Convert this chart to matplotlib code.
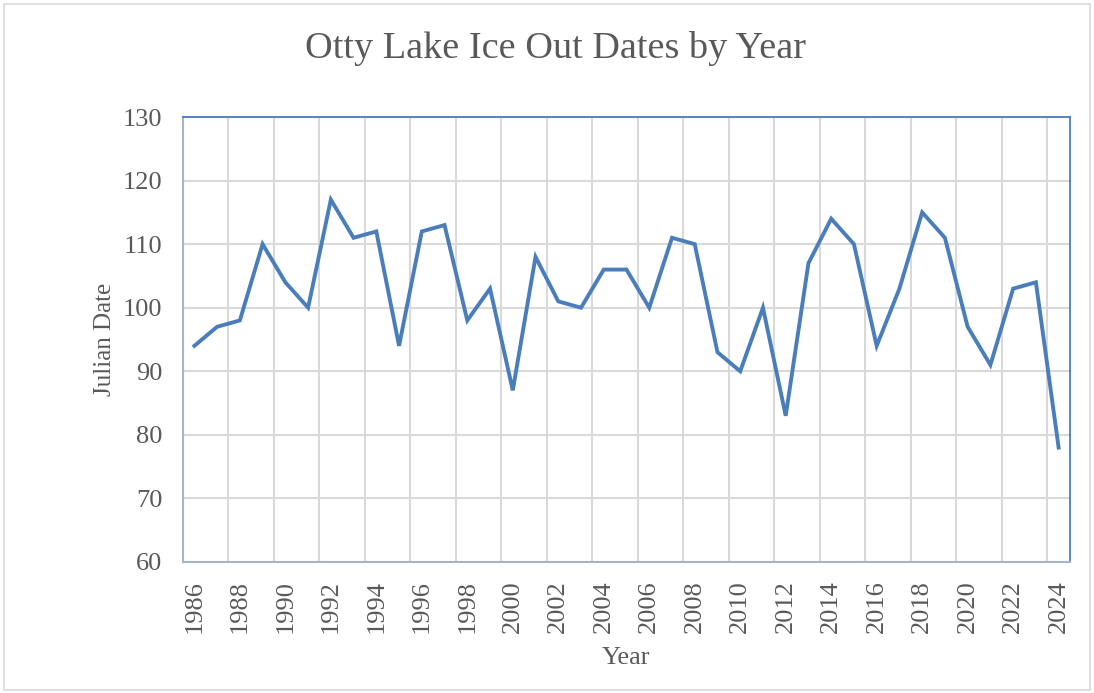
import matplotlib
matplotlib.use("Agg")
import matplotlib.pyplot as plt
from matplotlib.patches import Rectangle
import numpy as np

years = list(range(1986, 2025))
julian = [94, 97, 98, 110, 104, 100, 117, 111, 112, 94,
          112, 113, 98, 103, 87, 108, 101, 100, 106, 106,
          100, 111, 110, 93, 90, 100, 83, 107, 114, 110,
          94, 103, 115, 111, 97, 91, 103, 104, 78]
title = "Otty Lake Ice Out Dates by Year"
xlabel = "Year"
ylabel = "Julian Date"

plt.rcParams['font.family'] = ['Liberation Serif', 'DejaVu Serif']
txt = '#595959'
blue = '#4A7EBB'

fig = plt.figure(figsize=(10.94, 6.93), dpi=100)
fig.patches.append(Rectangle((0.004, 0.004), 0.992, 0.99, transform=fig.transFigure,
                             fill=False, edgecolor='#D9D9D9', linewidth=1.2))
ax = fig.add_axes([183/1094, 1-562/693, (1070-183)/1094, (562-117)/693])

n = len(years)
x = np.arange(n)
ax.plot(x, julian, color=blue, linewidth=2.8, solid_joinstyle='miter')
ax.set_xlim(-0.5, n - 0.5)
ax.set_ylim(60, 130)
ax.set_yticks(range(60, 131, 10))
ax.set_xticks(x[::2])
ax.set_xticklabels([str(y) for y in years[::2]], rotation=90)
ax.set_xticks(np.arange(-0.5, n, 2), minor=True)
ax.grid(False)
ax.grid(True, axis='y', which='major', color='#D9D9D9', linewidth=1.5)
ax.grid(True, axis='x', which='minor', color='#D9D9D9', linewidth=1.5)
ax.set_axisbelow(True)
ax.tick_params(axis='both', which='both', length=0, labelsize=19, colors=txt)
ax.tick_params(axis='y', pad=15)
ax.tick_params(axis='x', pad=13)
for s in ['top', 'right']:
    ax.spines[s].set_color(blue)
    ax.spines[s].set_linewidth(1.3)
for s in ['left', 'bottom']:
    ax.spines[s].set_color('#A8B4C4')
    ax.spines[s].set_linewidth(1.5)

ax.set_xlabel(xlabel, fontsize=19, color=txt, labelpad=10)
ax.set_ylabel(ylabel, fontsize=18, color=txt, labelpad=5)
fig.text(0.508, 1-49/693, title, ha='center', va='center', fontsize=27.5, color=txt)

fig.savefig("out.png", dpi=100)
